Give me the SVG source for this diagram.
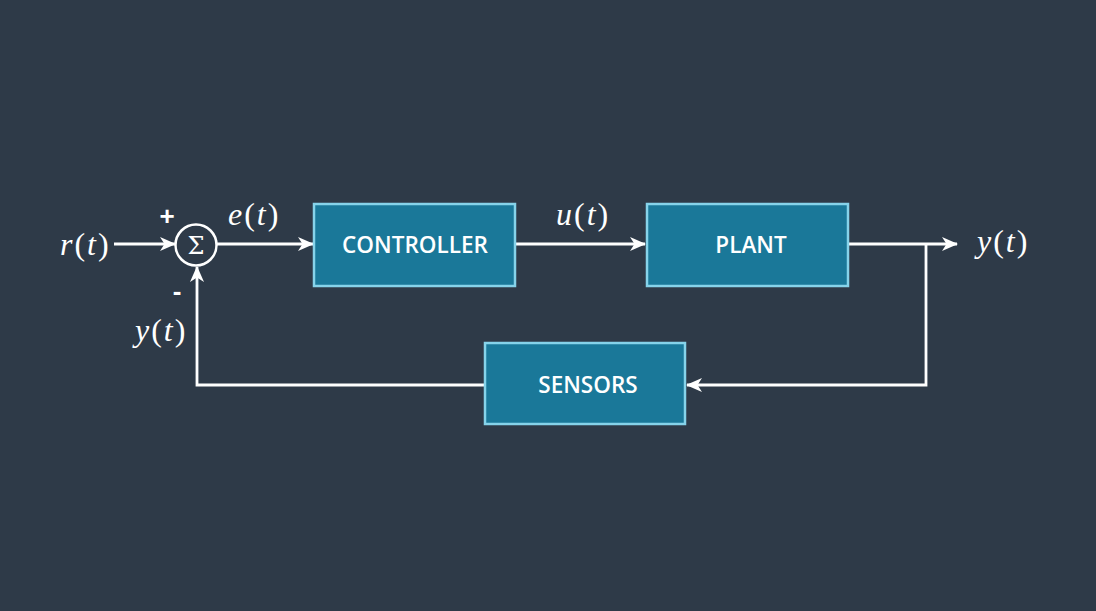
<svg xmlns="http://www.w3.org/2000/svg" width="1096" height="611" viewBox="0 0 1096 611">
<style>
.box{fill:#1a7899;stroke:#86d3ea;stroke-width:2.5}
.lbl{font-family:"Open Sans","Liberation Sans",sans-serif;font-weight:600;font-size:22.5px;fill:#ffffff;text-anchor:middle}
.math{font-family:"Liberation Serif","DejaVu Serif",serif;font-size:32px;fill:#ffffff;letter-spacing:2px}
.it{font-style:italic}
.wire{fill:none;stroke:#ffffff;stroke-width:2.8}
.sign{font-family:"Liberation Sans","Open Sans",sans-serif;font-weight:700;font-size:26px;fill:#ffffff;text-anchor:middle}
</style>
<defs>
<marker id="arr" viewBox="0 0 16 14" refX="15" refY="7" markerWidth="16" markerHeight="14" markerUnits="userSpaceOnUse" orient="auto">
<path d="M0,0 L16,7 L0,14 L4.5,7 Z" fill="#ffffff"/>
</marker>
</defs>
<rect width="1096" height="611" fill="#2e3a48"/>
<g id="connectors">
<path class="wire" d="M114,244 L175,244" marker-end="url(#arr)"/>
<path class="wire" d="M217,244 L313,244" marker-end="url(#arr)"/>
<path class="wire" d="M516,244 L645,244" marker-end="url(#arr)"/>
<path class="wire" d="M849,244 L957,244" marker-end="url(#arr)"/>
<path class="wire" d="M926,244 L926,385 L687,385" marker-end="url(#arr)"/>
<path class="wire" d="M484,385 L197,385 L197,267" marker-end="url(#arr)"/>
</g>
<g id="sum">
<circle cx="196" cy="245" r="20.5" fill="none" stroke="#ffffff" stroke-width="2.5"/>
<text x="196" y="254" font-family="DejaVu Serif,serif" font-size="24" fill="#ffffff" text-anchor="middle">Σ</text>
<text class="sign" x="167" y="225">+</text>
<text class="sign" x="177" y="300">-</text>
</g>
<g id="controller">
<rect class="box" x="314" y="204" width="201" height="82"/>
<text class="lbl" x="415" y="253">CONTROLLER</text>
</g>
<g id="plant">
<rect class="box" x="647" y="204" width="201" height="82"/>
<text class="lbl" x="751" y="253">PLANT</text>
</g>
<g id="sensors">
<rect class="box" x="485" y="343" width="200" height="81"/>
<text class="lbl" x="588" y="393">SENSORS</text>
</g>
<g id="labels">
<text class="math" x="60" y="255"><tspan class="it">r</tspan>(<tspan class="it">t</tspan>)</text>
<text class="math" x="228" y="225"><tspan class="it">e</tspan>(<tspan class="it">t</tspan>)</text>
<text class="math" x="556" y="225"><tspan class="it">u</tspan>(<tspan class="it">t</tspan>)</text>
<text class="math" x="977" y="252"><tspan class="it">y</tspan>(<tspan class="it">t</tspan>)</text>
<text class="math" x="135" y="341"><tspan class="it">y</tspan>(<tspan class="it">t</tspan>)</text>
</g>
</svg>
